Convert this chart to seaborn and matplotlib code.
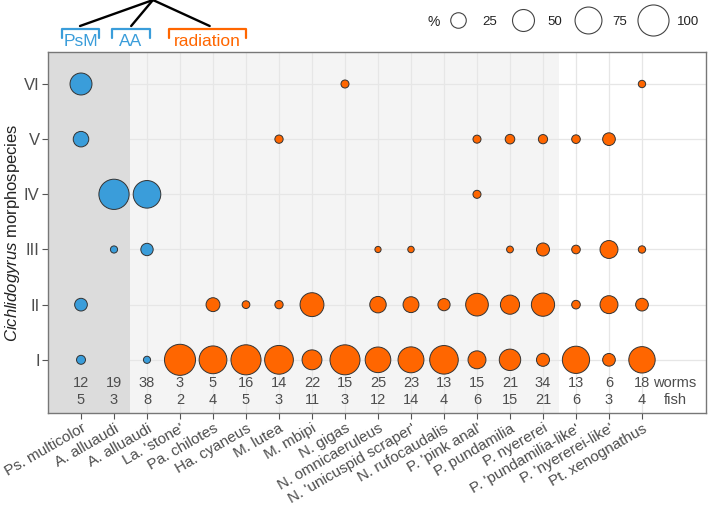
import numpy as np
import pandas as pd
import matplotlib.pyplot as plt
from matplotlib.lines import Line2D
import seaborn as sns

sns.set_theme(style="whitegrid")
plt.rcParams["font.family"] = ["Liberation Sans", "DejaVu Sans"]
plt.rcParams["mathtext.fontset"] = "custom"
plt.rcParams["mathtext.it"] = "Liberation Sans:italic"
plt.rcParams["mathtext.rm"] = "Liberation Sans"

BLUE, ORANGE = "#3A9DDA", "#FF6600"
GREY_TXT = "#4D4D4D"

# ── data (% of worms per Cichlidogyrus morphospecies, per host) ──
hosts = ["Ps. multicolor", "A. alluaudi", "A. alluaudi", "La. 'stone'", "Pa. chilotes",
         "Ha. cyaneus", "M. lutea", "M. mbipi", "N. gigas", "N. omnicaeruleus",
         "N. 'unicuspid scraper'", "N. rufocaudalis", "P. 'pink anal'", "P. pundamilia",
         "P. nyererei", "P. 'pundamilia-like'", "P. 'nyererei-like'", "Pt. xenognathus"]
group = ["PsM", "AA", "AA"] + ["radiation"] * 15
worms = [12, 19, 38, 3, 5, 16, 14, 22, 15, 25, 23, 13, 15, 21, 34, 13, 6, 18]
fish = [5, 3, 8, 2, 4, 5, 3, 11, 3, 12, 14, 4, 6, 15, 21, 6, 3, 4]
morphs = ["I", "II", "III", "IV", "V", "VI"]
pct_I = [8.3, 0, 5.3, 100, 80, 93.8, 85.7, 40.9, 93.3, 68, 69.6, 84.6, 33.3, 47.6, 17.6, 76.9, 16.7, 72.2]
pct_II = [16.7, 0, 0, 0, 20, 6.2, 7.1, 59.1, 0, 28, 26.1, 15.4, 53.3, 38.1, 55.9, 7.7, 33.3, 16.7]
pct_III = [0, 5.3, 15.8, 0, 0, 0, 0, 0, 0, 4, 4.3, 0, 0, 4.8, 17.6, 7.7, 33.3, 5.6]
pct_IV = [0, 94.7, 78.9, 0, 0, 0, 0, 0, 0, 0, 0, 0, 6.7, 0, 0, 0, 0, 0]
pct_V = [25, 0, 0, 0, 0, 0, 7.1, 0, 0, 0, 0, 0, 6.7, 9.5, 8.8, 7.7, 16.7, 0]
pct_VI = [50, 0, 0, 0, 0, 0, 0, 0, 6.7, 0, 0, 0, 0, 0, 0, 0, 0, 5.6]
legend_pct = [25, 50, 75, 100]

rows = []
for j, vals in enumerate([pct_I, pct_II, pct_III, pct_IV, pct_V, pct_VI]):
    for i, v in enumerate(vals):
        if v > 0:
            rows.append({"host": i, "morph": j + 1, "pct": v,
                         "clade": "AA" if group[i] != "radiation" else "radiation"})
df = pd.DataFrame(rows)

fig = plt.figure(figsize=(7.09, 5.08), dpi=100)
ax = fig.add_axes([48 / 709, 95 / 508, 658 / 709, 361 / 508])
ax.set_facecolor("white")
ax.set_axisbelow(True)

# background shading: PsM/AA dark, radiation light
ax.axvspan(-1, 1.5, color="#DCDCDC", zorder=0.6, lw=0)
ax.axvspan(1.5, 14.5, color="#F4F4F4", zorder=0.3, lw=0)

sns.scatterplot(data=df, x="host", y="morph", size="pct", hue="clade",
                palette={"AA": BLUE, "radiation": ORANGE},
                sizes=(0, 500), size_norm=(0, 100), edgecolor="#333333",
                linewidth=0.7, legend=False, zorder=3, ax=ax)

# worm / fish counts under the points
for i in range(len(hosts)):
    ax.text(i, 0.58, str(worms[i]), ha="center", va="center", fontsize=10.5, color=GREY_TXT)
    ax.text(i, 0.28, str(fish[i]), ha="center", va="center", fontsize=10.5, color=GREY_TXT)
ax.text(len(hosts), 0.58, "worms", ha="center", va="center", fontsize=10.5, color=GREY_TXT)
ax.text(len(hosts), 0.28, "fish", ha="center", va="center", fontsize=10.5, color=GREY_TXT)

ax.set_xlim(-1, 18.94)
ax.set_ylim(0.036, 6.58)
ax.set_xticks(range(len(hosts)))
ax.set_xticklabels(hosts, rotation=30, ha="right", rotation_mode="anchor",
                   fontsize=11, color=GREY_TXT)
ax.set_yticks(range(1, 7))
ax.set_yticklabels(morphs, fontsize=12, color=GREY_TXT)
ax.tick_params(axis="both", length=4, width=0.8, color="#555555", pad=2, left=True, bottom=True)
ax.grid(True, color="#E6E6E6", lw=0.9)
for s in ax.spines.values():
    s.set_color("#777777")
    s.set_linewidth(1)
ax.set_xlabel("")
ax.set_ylabel(r"$\it{Cichlidogyrus}$ morphospecies", fontsize=12, color="#222222")
ax.yaxis.set_label_coords(-26 / 658, 0.5)

# clade brackets and tree on top
tr = ax.get_xaxis_transform()
brackets = [("PsM", -0.58, 0.55, BLUE), ("AA", 0.94, 2.09, BLUE), ("radiation", 2.67, 5.0, ORANGE)]
tips = [-0.03, 1.52, 3.9]
for (lab, x0, x1, col), tip in zip(brackets, tips):
    ax.plot([x0, x0, x1, x1], [1.040, 1.064, 1.064, 1.040], color=col, lw=1.6,
            transform=tr, clip_on=False)
    ax.text((x0 + x1) / 2, 1.030, lab, color=col, fontsize=12.5, ha="center", va="center",
            transform=tr, clip_on=False)
    ax.plot([2.18, tip], [1.144, 1.072], color="black", lw=1.7, transform=tr, clip_on=False)

# size legend
handles = [Line2D([], [], marker="o", ls="none", markersize=np.sqrt(5 * v),
                  markerfacecolor="none", markeredgecolor="#444444", markeredgewidth=0.8)
           for v in legend_pct]
leg = fig.legend(handles, [str(v) for v in legend_pct], ncol=4, loc="center right",
                 bbox_to_anchor=(699 / 709, 1 - 22 / 508), frameon=False, fontsize=9.5,
                 handlelength=2.0, handletextpad=0.8, columnspacing=1.0, borderpad=0,
                 borderaxespad=0)
for t in leg.get_texts():
    t.set_color("#222222")
fig.text(434 / 709, 1 - 22 / 508, "%", ha="center", va="center", fontsize=10, color="#222222")

fig.savefig("out.png", dpi=100)
